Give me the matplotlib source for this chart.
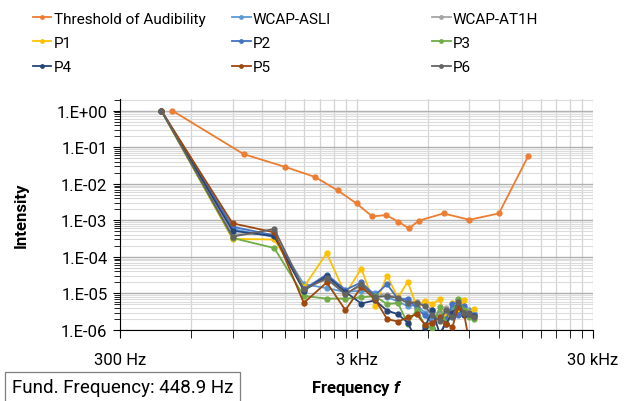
import numpy as np
import matplotlib
matplotlib.use("Agg")
import matplotlib.pyplot as plt
from matplotlib.ticker import FixedLocator, NullFormatter, FuncFormatter
from matplotlib.patches import Rectangle

plt.rcParams['font.family'] = ['Roboto', 'DejaVu Sans']
plt.rcParams['mathtext.fontset'] = 'custom'
plt.rcParams['mathtext.bfit'] = 'Roboto:italic:bold'

# threshold of audibility (normalised)
thr_freq = [500, 1000, 1500, 2000, 2500, 3000, 3500, 4000, 4500, 5000, 5500, 7000, 9000, 12000, 16000]
thr_val = [1.0, 6.5e-2, 2.9e-2, 1.55e-2, 6.6e-3, 2.9e-3, 1.28e-3, 1.4e-3, 9.3e-4, 6.0e-4,
           9.8e-4, 1.55e-3, 1.04e-3, 1.55e-3, 5.9e-2]

# harmonics of the fundamental
fund = 448.9
harmonic = list(range(1, 22))

wcap_asli = [1, 5.8e-4, 3.5e-4, 1.8e-5, 1.4e-5, 1.1e-5, 1.2e-5, 1.05e-5, 8e-6, 6e-6, 4.5e-6,
             4.8e-6, 3e-6, 2e-6, 3e-6, 2.5e-6, 3.5e-6, 5.5e-6, 4e-6, 3.5e-6, 3e-6]
wcap_at1h = [1, 4.2e-4, 4.2e-4, 1.4e-5, 2.4e-5, 1.0e-5, 1.6e-5, 9e-6, 9e-6, 8e-6, 6e-6,
             6e-6, 5e-6, 3.5e-6, 2.5e-6, 4e-6, 3e-6, 6.5e-6, 3.5e-6, 3e-6, 2.5e-6]
p1 = [1, 3.1e-4, 3.0e-4, 1.5e-5, 1.26e-4, 9.6e-6, 4.8e-5, 4.6e-6, 3.1e-5, 7.5e-6, 2.1e-5,
      4.5e-6, 6.4e-6, 5.1e-6, 7e-6, 2.2e-6, 5.5e-6, 3.5e-6, 6.5e-6, 3.0e-6, 3.8e-6]
p2 = [1, 6.7e-4, 3.9e-4, 1.3e-5, 3.3e-5, 1.26e-5, 2.0e-5, 9e-6, 1.8e-5, 7e-6, 7e-6,
      4e-6, 2.5e-6, 1.5e-6, 6e-7, 2e-6, 5e-6, 2.5e-6, 4.5e-6, 3e-6, 2.6e-6]
p3 = [1, 3.3e-4, 1.75e-4, 8.6e-6, 7.2e-6, 7.2e-6, 7.8e-6, 8.5e-6, 5.1e-6, 5.5e-6, 1.5e-6,
      3.5e-6, 1.4e-6, 1.1e-6, 4.2e-6, 1.6e-6, 3e-6, 7e-6, 3.5e-6, 2.2e-6, 2.0e-6]
p4 = [1, 5.2e-4, 3.7e-4, 1.2e-5, 3.0e-5, 1.1e-5, 5.3e-6, 6.5e-6, 3.4e-6, 2.7e-6, 1.6e-6,
      5e-7, 1.2e-6, 3.5e-6, 8e-7, 1.5e-6, 3e-6, 4.5e-6, 2.5e-6, 2.8e-6, 2.4e-6]
p5 = [1, 8.3e-4, 4.7e-4, 5.5e-6, 2.0e-5, 3.5e-6, 1.5e-5, 7e-6, 2.0e-6, 1.7e-6, 2.2e-6,
      2.7e-6, 1.4e-6, 1.6e-6, 2.2e-6, 1.5e-6, 1.2e-6, 4.3e-6, 3.0e-6, 5e-7, 4e-7]
p6 = [1, 3.6e-4, 5.8e-4, 1.3e-5, 2.6e-5, 9.5e-6, 1.8e-5, 8e-6, 8.5e-6, 7.5e-6, 5.5e-6,
      5.6e-6, 4.5e-6, 2.5e-6, 1.8e-6, 3.5e-6, 2.2e-6, 6e-6, 3e-6, 2.8e-6, 2.2e-6]

series = [
    ("WCAP-ASLI", wcap_asli, "#5B9BD5"),
    ("WCAP-AT1H", wcap_at1h, "#A5A5A5"),
    ("P1", p1, "#FFC000"),
    ("P2", p2, "#4472C4"),
    ("P3", p3, "#70AD47"),
    ("P4", p4, "#264478"),
    ("P5", p5, "#9E480E"),
    ("P6", p6, "#636363"),
]

fig = plt.figure(figsize=(6.24, 4.02), dpi=100)
ax = fig.add_axes([120 / 624, 1 - 331 / 402, 473 / 624, 231 / 402])

freqs = np.array(harmonic) * fund
handles = {}
h, = ax.plot(thr_freq, thr_val, color="#ED7D31", lw=1.3, marker="o", ms=3.5, zorder=3)
handles["Threshold of Audibility"] = h
for name, vals, col in series:
    h, = ax.plot(freqs, vals, color=col, lw=1.3, marker="o", ms=3.5, zorder=3)
    handles[name] = h

ax.set_xscale("log")
ax.set_yscale("log")
ax.set_xlim(300, 30000)
ax.set_ylim(1e-6, 2.1)

ax.xaxis.set_major_locator(FixedLocator([300, 3000, 30000]))
ax.xaxis.set_minor_locator(FixedLocator([300 * k for k in range(2, 10)] + [3000 * k for k in range(2, 10)]))
ax.set_xticklabels(["300 Hz", "3 kHz", "30 kHz"])
ax.xaxis.set_minor_formatter(NullFormatter())

ax.yaxis.set_major_locator(FixedLocator([10.0 ** e for e in range(-6, 1)]))
ax.yaxis.set_minor_locator(FixedLocator([k * 10.0 ** e for e in range(-6, 1) for k in range(2, 10)]))
ax.yaxis.set_major_formatter(FuncFormatter(lambda v, p: "1.E%+03d" % int(round(np.log10(v)))))
ax.yaxis.set_minor_formatter(NullFormatter())

ax.grid(True, which="major", axis="y", color="#b0b0b0", lw=1.0)
ax.grid(True, which="minor", axis="y", color="#dcdcdc", lw=0.8)
ax.grid(True, which="both", axis="x", color="#d4d4d4", lw=0.9)
ax.set_axisbelow(True)

for s in ["top", "right"]:
    ax.spines[s].set_visible(False)
ax.spines["left"].set_color("black")
ax.spines["bottom"].set_color("black")
ax.tick_params(axis="y", which="major", direction="out", length=5, labelsize=12, pad=4)
ax.tick_params(axis="y", which="minor", direction="out", length=4)
ax.tick_params(axis="x", which="both", direction="out", length=6, labelsize=12, pad=10)

ax.set_ylabel("Intensity", fontsize=12, fontweight="bold", labelpad=20)
ax.set_xlabel(r"Frequency $\mathbfit{f}$", fontsize=12, fontweight="bold", labelpad=8)

# legend: three columns, laid out like the original
cols = [["Threshold of Audibility", "P1", "P4"],
        ["WCAP-ASLI", "P2", "P5"],
        ["WCAP-AT1H", "P3", "P6"]]
xs = [0.036, 0.355, 0.6755]
for x, names in zip(xs, cols):
    fig.legend([handles[n] for n in names], names, loc="upper left",
               bbox_to_anchor=(x, 0.995), frameon=False, fontsize=11,
               handlelength=1.2, handletextpad=0.15, labelspacing=0.66,
               markerscale=0.7, borderaxespad=0.3)

fig.patches.append(Rectangle((5 / 624, -0.01), 235 / 624, (402 - 373) / 402 + 0.01,
                             transform=fig.transFigure, fc="white", ec="#7f7f7f", lw=0.9))
fig.text(12 / 624, 1 - 388 / 402, "Fund. Frequency: 448.9 Hz", fontsize=13.5, va="center", ha="left")

fig.savefig("out.png", dpi=100)
